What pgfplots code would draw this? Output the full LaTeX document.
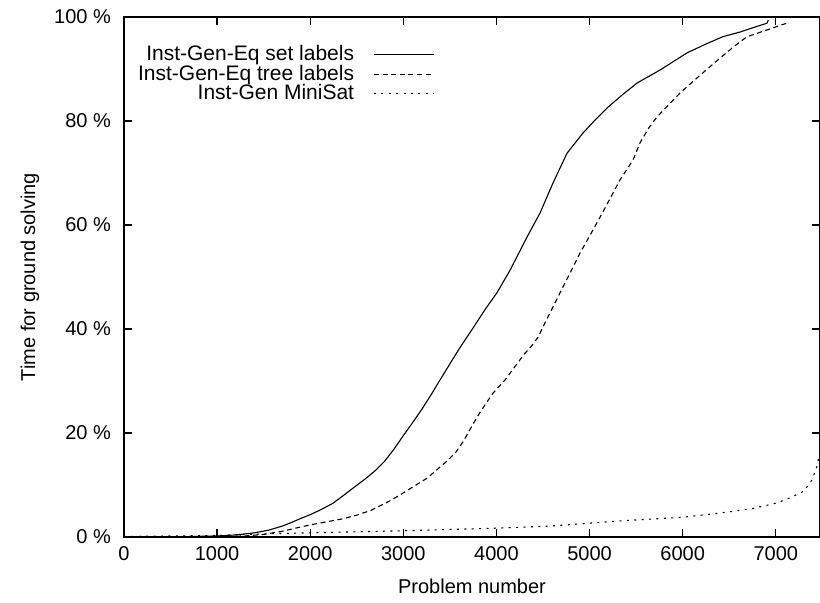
\documentclass[border=0pt]{standalone}
\usepackage{fontspec}
\setmainfont{Liberation Sans}
\usepackage{pgfplots}
\pgfplotsset{compat=1.18}
\begin{document}
\begin{tikzpicture}
\begin{axis}[
  scale only axis, width=348pt, height=260pt,
  xmin=0, xmax=7475, ymin=0, ymax=100,
  xtick={0,1000,...,7000}, ytick={0,20,...,100},
  tick align=inside, major tick length=4pt,
  axis line style={line width=0.9pt},
  every tick/.style={black, line width=0.7pt},
  font=\fontsize{10}{12}\selectfont,
  /pgf/number format/assume math mode=true,
  /pgf/number format/1000 sep={},
  yticklabel={\pgfmathprintnumber{\tick} \%},
  yticklabel style={xshift=-3pt},
  xticklabel style={yshift=-1pt},
  xlabel={Problem number}, ylabel={Time for ground solving},
  xlabel style={at={(axis description cs:0.5,-0.095)}, anchor=center},
  ylabel style={at={(axis description cs:-0.135,0.5)}, anchor=center},
  legend style={at={(axis description cs:0.455,0.962)}, anchor=north east,
    draw=none, fill=none, font=\fontsize{10.5}{12}\selectfont, row sep=-3.2pt,
    cells={anchor=east}},
  legend plot pos=right,
  legend image code/.code={\path (0cm,0cm); \draw[#1] (0.27cm,0cm) -- (1.32cm,0cm);},
]
\addplot[black, line width=0.55pt] coordinates {
(0,0) (600,0.05) (1000,0.2) (1200,0.4) (1400,0.8) (1550,1.3) (1700,2.1)
(1800,2.8) (1890,3.5) (2000,4.3) (2120,5.3) (2245,6.5) (2350,7.9)
(2460,9.4) (2600,11.3) (2700,12.8) (2800,14.6) (2900,16.9) (3000,19.5)
(3100,22.0) (3200,24.6) (3300,27.4) (3394,30.2) (3500,33.3) (3600,36.2)
(3749,40.2) (3880,43.8) (4003,46.9) (4146,51.3) (4329,57.7) (4468,62.3)
(4608,68.1) (4758,73.8) (4930,77.7) (5060,80.2) (5188,82.5) (5350,85)
(5510,87.3) (5757,89.8) (6047,93.1) (6250,94.8) (6430,96.2) (6615,97.1)
(6800,98.2) (6905,98.8) (6920,99.4)
};
\addlegendentry{Inst-Gen-Eq set labels}
\addplot[black, line width=0.55pt, dash pattern=on 2.5pt off 1.8pt] coordinates {
(0,0) (1000,0.1) (1300,0.2) (1500,0.5) (1700,1.1) (1890,1.9) (2050,2.5)
(2200,3.0) (2350,3.5) (2500,4.2) (2650,5.1) (2750,6.0) (2860,7.0)
(2965,8.1) (3100,9.6) (3254,11.3) (3450,14.3) (3560,16.2) (3641,18.3)
(3720,20.8) (3790,23) (3880,25.5) (3965,27.7) (4092,30.2) (4200,32.8)
(4300,35.2) (4380,36.8) (4450,38.5) (4500,40.4) (4600,44) (4715,48.1)
(4898,54.6) (5113,61.5) (5328,68.7) (5467,72.5) (5542,75.8) (5630,78.5)
(5725,80.8) (5972,85.4) (6187,88.8) (6402,92.1) (6550,94.3) (6690,96.2)
(6905,97.5) (7065,98.5) (7120,98.8)
};
\addlegendentry{Inst-Gen-Eq tree labels}
\addplot[black, line width=0.55pt, dash pattern=on 1pt off 2.7pt] coordinates {
(0,0.1) (1000,0.3) (1500,0.6) (2000,0.8) (3000,1.2) (4000,1.7) (4575,2.1)
(5330,3.1) (6000,3.8) (6400,4.6) (6760,5.5) (7000,6.5) (7150,7.5)
(7300,8.8) (7390,11) (7440,13.5) (7470,16) (7480,20)
};
\addlegendentry{Inst-Gen MiniSat}
\end{axis}
\pgfresetboundingbox
\path[use as bounding box] ([xshift=-62pt,yshift=-32.5pt]current axis.south west) rectangle ([yshift=8.5pt]current axis.north east);
\end{tikzpicture}
\end{document}
